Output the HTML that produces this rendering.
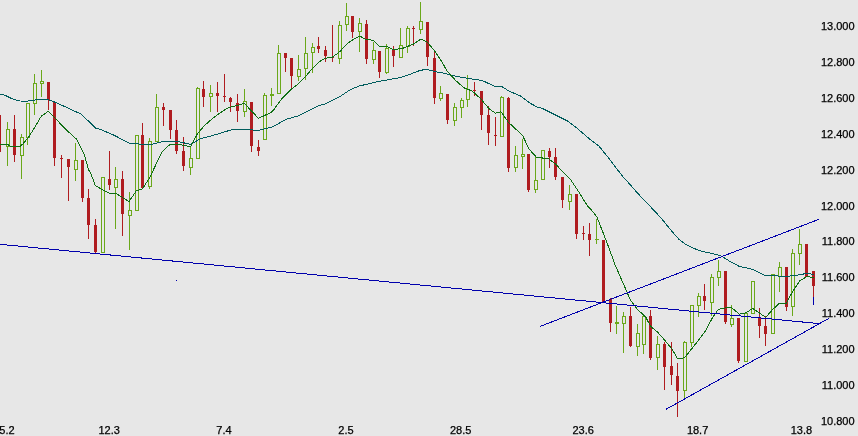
<!DOCTYPE html>
<html><head><meta charset="utf-8"><title>Chart</title>
<style>
html,body{margin:0;padding:0;background:#e7e7e7;}
body{width:858px;height:436px;overflow:hidden;}
svg{display:block;}
text{font-family:"Liberation Sans",Arial,sans-serif;font-size:11px;fill:#000;stroke:#000;stroke-width:0.25px;}
</style></head><body>
<svg width="858" height="436" viewBox="0 0 858 436">
<rect x="0" y="0" width="858" height="436" fill="#e7e7e7"/>
<g shape-rendering="crispEdges">
<rect x="-1" y="115" width="1" height="37" fill="#b01c20"/>
<rect x="-2" y="115" width="3" height="37" fill="#b01c20"/>
<rect x="7" y="122" width="1" height="7" fill="#6aa81a"/>
<rect x="7" y="147" width="1" height="19" fill="#6aa81a"/>
<rect x="6.5" y="129.5" width="3" height="17" fill="none" stroke="#6aa81a" stroke-width="1"/>
<rect x="14" y="115" width="1" height="47" fill="#b01c20"/>
<rect x="13" y="129" width="3" height="26" fill="#b01c20"/>
<rect x="21" y="134" width="1" height="3" fill="#6aa81a"/>
<rect x="21" y="156" width="1" height="23" fill="#6aa81a"/>
<rect x="20.5" y="137.5" width="3" height="18" fill="none" stroke="#6aa81a" stroke-width="1"/>
<rect x="27" y="138" width="1" height="7" fill="#6aa81a"/>
<rect x="26.5" y="103.5" width="3" height="34" fill="none" stroke="#6aa81a" stroke-width="1"/>
<rect x="34" y="74" width="1" height="9" fill="#6aa81a"/>
<rect x="34" y="104" width="1" height="11" fill="#6aa81a"/>
<rect x="33.5" y="83.5" width="3" height="20" fill="none" stroke="#6aa81a" stroke-width="1"/>
<rect x="41" y="70" width="1" height="11" fill="#6aa81a"/>
<rect x="41" y="84" width="1" height="13" fill="#6aa81a"/>
<rect x="40.5" y="81.5" width="3" height="2" fill="none" stroke="#6aa81a" stroke-width="1"/>
<rect x="48" y="82" width="1" height="28" fill="#b01c20"/>
<rect x="47" y="82" width="3" height="18" fill="#b01c20"/>
<rect x="54" y="102" width="1" height="64" fill="#b01c20"/>
<rect x="53" y="102" width="3" height="56" fill="#b01c20"/>
<rect x="61" y="155" width="1" height="23" fill="#b01c20"/>
<rect x="60" y="158" width="3" height="1" fill="#b01c20"/>
<rect x="68" y="159" width="1" height="42" fill="#b01c20"/>
<rect x="67" y="159" width="3" height="8" fill="#b01c20"/>
<rect x="75" y="143" width="1" height="17" fill="#6aa81a"/>
<rect x="75" y="170" width="1" height="11" fill="#6aa81a"/>
<rect x="74.5" y="160.5" width="3" height="9" fill="none" stroke="#6aa81a" stroke-width="1"/>
<rect x="82" y="160" width="1" height="42" fill="#b01c20"/>
<rect x="81" y="160" width="3" height="38" fill="#b01c20"/>
<rect x="88" y="189" width="1" height="50" fill="#b01c20"/>
<rect x="87" y="198" width="3" height="27" fill="#b01c20"/>
<rect x="95" y="219" width="1" height="35" fill="#b01c20"/>
<rect x="94" y="225" width="3" height="27" fill="#b01c20"/>
<rect x="101.5" y="177.5" width="3" height="75" fill="none" stroke="#6aa81a" stroke-width="1"/>
<rect x="109" y="151" width="1" height="39" fill="#b01c20"/>
<rect x="108" y="179" width="3" height="6" fill="#b01c20"/>
<rect x="115" y="167" width="1" height="12" fill="#6aa81a"/>
<rect x="115" y="188" width="1" height="41" fill="#6aa81a"/>
<rect x="114.5" y="179.5" width="3" height="8" fill="none" stroke="#6aa81a" stroke-width="1"/>
<rect x="122" y="171" width="1" height="65" fill="#b01c20"/>
<rect x="121" y="179" width="3" height="35" fill="#b01c20"/>
<rect x="129" y="192" width="1" height="18" fill="#6aa81a"/>
<rect x="129" y="216" width="1" height="34" fill="#6aa81a"/>
<rect x="128.5" y="210.5" width="3" height="5" fill="none" stroke="#6aa81a" stroke-width="1"/>
<rect x="135.5" y="135.5" width="3" height="75" fill="none" stroke="#6aa81a" stroke-width="1"/>
<rect x="142" y="123" width="1" height="65" fill="#b01c20"/>
<rect x="141" y="135" width="3" height="53" fill="#b01c20"/>
<rect x="149" y="138" width="1" height="3" fill="#6aa81a"/>
<rect x="149" y="187" width="1" height="2" fill="#6aa81a"/>
<rect x="148.5" y="141.5" width="3" height="45" fill="none" stroke="#6aa81a" stroke-width="1"/>
<rect x="156" y="94" width="1" height="13" fill="#6aa81a"/>
<rect x="155.5" y="107.5" width="3" height="34" fill="none" stroke="#6aa81a" stroke-width="1"/>
<rect x="163" y="103" width="1" height="23" fill="#b01c20"/>
<rect x="162" y="107" width="3" height="3" fill="#b01c20"/>
<rect x="170" y="110" width="1" height="29" fill="#b01c20"/>
<rect x="169" y="110" width="3" height="20" fill="#b01c20"/>
<rect x="176" y="120" width="1" height="34" fill="#b01c20"/>
<rect x="175" y="130" width="3" height="21" fill="#b01c20"/>
<rect x="183" y="137" width="1" height="34" fill="#b01c20"/>
<rect x="182" y="151" width="3" height="15" fill="#b01c20"/>
<rect x="190" y="146" width="1" height="12" fill="#6aa81a"/>
<rect x="190" y="168" width="1" height="7" fill="#6aa81a"/>
<rect x="189.5" y="158.5" width="3" height="9" fill="none" stroke="#6aa81a" stroke-width="1"/>
<rect x="197" y="87" width="1" height="1" fill="#6aa81a"/>
<rect x="196.5" y="88.5" width="3" height="70" fill="none" stroke="#6aa81a" stroke-width="1"/>
<rect x="203" y="81" width="1" height="26" fill="#b01c20"/>
<rect x="202" y="89" width="3" height="8" fill="#b01c20"/>
<rect x="210" y="85" width="1" height="8" fill="#6aa81a"/>
<rect x="210" y="97" width="1" height="15" fill="#6aa81a"/>
<rect x="209.5" y="93.5" width="3" height="3" fill="none" stroke="#6aa81a" stroke-width="1"/>
<rect x="217" y="82" width="1" height="30" fill="#b01c20"/>
<rect x="216" y="93" width="3" height="3" fill="#b01c20"/>
<rect x="224" y="74" width="1" height="28" fill="#b01c20"/>
<rect x="223" y="96" width="3" height="1" fill="#b01c20"/>
<rect x="230" y="97" width="1" height="15" fill="#b01c20"/>
<rect x="229" y="98" width="3" height="4" fill="#b01c20"/>
<rect x="237" y="94" width="1" height="28" fill="#b01c20"/>
<rect x="236" y="103" width="3" height="8" fill="#b01c20"/>
<rect x="244" y="89" width="1" height="12" fill="#6aa81a"/>
<rect x="244" y="112" width="1" height="5" fill="#6aa81a"/>
<rect x="243.5" y="101.5" width="3" height="10" fill="none" stroke="#6aa81a" stroke-width="1"/>
<rect x="251" y="102" width="1" height="50" fill="#b01c20"/>
<rect x="250" y="102" width="3" height="44" fill="#b01c20"/>
<rect x="258" y="140" width="1" height="16" fill="#b01c20"/>
<rect x="257" y="147" width="3" height="4" fill="#b01c20"/>
<rect x="264" y="93" width="1" height="2" fill="#6aa81a"/>
<rect x="263.5" y="95.5" width="3" height="44" fill="none" stroke="#6aa81a" stroke-width="1"/>
<rect x="271" y="88" width="1" height="6" fill="#6aa81a"/>
<rect x="271" y="96" width="1" height="10" fill="#6aa81a"/>
<rect x="270" y="94" width="4" height="2" fill="#6aa81a"/>
<rect x="278" y="45" width="1" height="8" fill="#6aa81a"/>
<rect x="277.5" y="53.5" width="3" height="40" fill="none" stroke="#6aa81a" stroke-width="1"/>
<rect x="285" y="53" width="1" height="19" fill="#b01c20"/>
<rect x="284" y="53" width="3" height="5" fill="#b01c20"/>
<rect x="291" y="58" width="1" height="31" fill="#b01c20"/>
<rect x="290" y="58" width="3" height="18" fill="#b01c20"/>
<rect x="298" y="55" width="1" height="14" fill="#6aa81a"/>
<rect x="298" y="77" width="1" height="4" fill="#6aa81a"/>
<rect x="297.5" y="69.5" width="3" height="7" fill="none" stroke="#6aa81a" stroke-width="1"/>
<rect x="305" y="37" width="1" height="16" fill="#6aa81a"/>
<rect x="305" y="69" width="1" height="11" fill="#6aa81a"/>
<rect x="304.5" y="53.5" width="3" height="15" fill="none" stroke="#6aa81a" stroke-width="1"/>
<rect x="312" y="43" width="1" height="4" fill="#6aa81a"/>
<rect x="312" y="53" width="1" height="20" fill="#6aa81a"/>
<rect x="311.5" y="47.5" width="3" height="5" fill="none" stroke="#6aa81a" stroke-width="1"/>
<rect x="318" y="37" width="1" height="16" fill="#b01c20"/>
<rect x="317" y="46" width="3" height="3" fill="#b01c20"/>
<rect x="325" y="46" width="1" height="16" fill="#b01c20"/>
<rect x="324" y="50" width="3" height="6" fill="#b01c20"/>
<rect x="332" y="25" width="1" height="37" fill="#b01c20"/>
<rect x="331" y="57" width="3" height="1" fill="#b01c20"/>
<rect x="339" y="21" width="1" height="4" fill="#6aa81a"/>
<rect x="339" y="59" width="1" height="5" fill="#6aa81a"/>
<rect x="338.5" y="25.5" width="3" height="33" fill="none" stroke="#6aa81a" stroke-width="1"/>
<rect x="346" y="3" width="1" height="13" fill="#6aa81a"/>
<rect x="346" y="25" width="1" height="6" fill="#6aa81a"/>
<rect x="345.5" y="16.5" width="3" height="8" fill="none" stroke="#6aa81a" stroke-width="1"/>
<rect x="352" y="16" width="1" height="22" fill="#b01c20"/>
<rect x="351" y="16" width="3" height="16" fill="#b01c20"/>
<rect x="359" y="18" width="1" height="5" fill="#6aa81a"/>
<rect x="359" y="32" width="1" height="20" fill="#6aa81a"/>
<rect x="358.5" y="23.5" width="3" height="8" fill="none" stroke="#6aa81a" stroke-width="1"/>
<rect x="366" y="20" width="1" height="44" fill="#b01c20"/>
<rect x="365" y="24" width="3" height="35" fill="#b01c20"/>
<rect x="373" y="42" width="1" height="8" fill="#6aa81a"/>
<rect x="373" y="60" width="1" height="4" fill="#6aa81a"/>
<rect x="372.5" y="50.5" width="3" height="9" fill="none" stroke="#6aa81a" stroke-width="1"/>
<rect x="379" y="51" width="1" height="27" fill="#b01c20"/>
<rect x="378" y="51" width="3" height="21" fill="#b01c20"/>
<rect x="386" y="44" width="1" height="4" fill="#6aa81a"/>
<rect x="386" y="73" width="1" height="1" fill="#6aa81a"/>
<rect x="385.5" y="48.5" width="3" height="24" fill="none" stroke="#6aa81a" stroke-width="1"/>
<rect x="393" y="46" width="1" height="21" fill="#b01c20"/>
<rect x="392" y="49" width="3" height="7" fill="#b01c20"/>
<rect x="400" y="28" width="1" height="17" fill="#6aa81a"/>
<rect x="399.5" y="45.5" width="3" height="12" fill="none" stroke="#6aa81a" stroke-width="1"/>
<rect x="407" y="26" width="1" height="2" fill="#6aa81a"/>
<rect x="407" y="47" width="1" height="6" fill="#6aa81a"/>
<rect x="406.5" y="28.5" width="3" height="18" fill="none" stroke="#6aa81a" stroke-width="1"/>
<rect x="413" y="26" width="1" height="20" fill="#b01c20"/>
<rect x="412" y="28" width="3" height="1" fill="#b01c20"/>
<rect x="420" y="2" width="1" height="19" fill="#6aa81a"/>
<rect x="420" y="30" width="1" height="4" fill="#6aa81a"/>
<rect x="419.5" y="21.5" width="3" height="8" fill="none" stroke="#6aa81a" stroke-width="1"/>
<rect x="427" y="22" width="1" height="44" fill="#b01c20"/>
<rect x="426" y="22" width="3" height="35" fill="#b01c20"/>
<rect x="434" y="52" width="1" height="52" fill="#b01c20"/>
<rect x="433" y="58" width="3" height="40" fill="#b01c20"/>
<rect x="440" y="86" width="1" height="7" fill="#6aa81a"/>
<rect x="440" y="99" width="1" height="2" fill="#6aa81a"/>
<rect x="439.5" y="93.5" width="3" height="5" fill="none" stroke="#6aa81a" stroke-width="1"/>
<rect x="447" y="94" width="1" height="30" fill="#b01c20"/>
<rect x="446" y="94" width="3" height="26" fill="#b01c20"/>
<rect x="454" y="103" width="1" height="4" fill="#6aa81a"/>
<rect x="454" y="121" width="1" height="5" fill="#6aa81a"/>
<rect x="453.5" y="107.5" width="3" height="13" fill="none" stroke="#6aa81a" stroke-width="1"/>
<rect x="461" y="98" width="1" height="2" fill="#6aa81a"/>
<rect x="461" y="108" width="1" height="10" fill="#6aa81a"/>
<rect x="460.5" y="100.5" width="3" height="7" fill="none" stroke="#6aa81a" stroke-width="1"/>
<rect x="467" y="75" width="1" height="14" fill="#6aa81a"/>
<rect x="467" y="100" width="1" height="7" fill="#6aa81a"/>
<rect x="466.5" y="89.5" width="3" height="10" fill="none" stroke="#6aa81a" stroke-width="1"/>
<rect x="474" y="82" width="1" height="14" fill="#b01c20"/>
<rect x="473" y="90" width="3" height="1" fill="#b01c20"/>
<rect x="481" y="91" width="1" height="39" fill="#b01c20"/>
<rect x="480" y="91" width="3" height="24" fill="#b01c20"/>
<rect x="488" y="106" width="1" height="39" fill="#b01c20"/>
<rect x="487" y="115" width="3" height="18" fill="#b01c20"/>
<rect x="495" y="117" width="1" height="29" fill="#b01c20"/>
<rect x="494" y="135" width="3" height="1" fill="#b01c20"/>
<rect x="501" y="96" width="1" height="1" fill="#6aa81a"/>
<rect x="500.5" y="97.5" width="3" height="39" fill="none" stroke="#6aa81a" stroke-width="1"/>
<rect x="508" y="97" width="1" height="75" fill="#b01c20"/>
<rect x="507" y="98" width="3" height="70" fill="#b01c20"/>
<rect x="515" y="146" width="1" height="9" fill="#6aa81a"/>
<rect x="515" y="168" width="1" height="4" fill="#6aa81a"/>
<rect x="514.5" y="155.5" width="3" height="12" fill="none" stroke="#6aa81a" stroke-width="1"/>
<rect x="522" y="139" width="1" height="15" fill="#6aa81a"/>
<rect x="522" y="157" width="1" height="12" fill="#6aa81a"/>
<rect x="521.5" y="154.5" width="3" height="2" fill="none" stroke="#6aa81a" stroke-width="1"/>
<rect x="528" y="154" width="1" height="38" fill="#b01c20"/>
<rect x="527" y="154" width="3" height="36" fill="#b01c20"/>
<rect x="535" y="156" width="1" height="24" fill="#6aa81a"/>
<rect x="535" y="190" width="1" height="3" fill="#6aa81a"/>
<rect x="534.5" y="180.5" width="3" height="9" fill="none" stroke="#6aa81a" stroke-width="1"/>
<rect x="541.5" y="150.5" width="3" height="29" fill="none" stroke="#6aa81a" stroke-width="1"/>
<rect x="549" y="148" width="1" height="20" fill="#b01c20"/>
<rect x="548" y="151" width="3" height="6" fill="#b01c20"/>
<rect x="555" y="148" width="1" height="32" fill="#b01c20"/>
<rect x="554" y="157" width="3" height="20" fill="#b01c20"/>
<rect x="562" y="177" width="1" height="31" fill="#b01c20"/>
<rect x="561" y="177" width="3" height="23" fill="#b01c20"/>
<rect x="569" y="185" width="1" height="9" fill="#6aa81a"/>
<rect x="569" y="202" width="1" height="8" fill="#6aa81a"/>
<rect x="568.5" y="194.5" width="3" height="7" fill="none" stroke="#6aa81a" stroke-width="1"/>
<rect x="576" y="194" width="1" height="45" fill="#b01c20"/>
<rect x="575" y="194" width="3" height="40" fill="#b01c20"/>
<rect x="583" y="226" width="1" height="14" fill="#b01c20"/>
<rect x="582" y="233" width="3" height="1" fill="#b01c20"/>
<rect x="589" y="223" width="1" height="33" fill="#b01c20"/>
<rect x="588" y="234" width="3" height="6" fill="#b01c20"/>
<rect x="596" y="219" width="1" height="20" fill="#6aa81a"/>
<rect x="596" y="240" width="1" height="4" fill="#6aa81a"/>
<rect x="595" y="239" width="4" height="1" fill="#6aa81a"/>
<rect x="603" y="240" width="1" height="63" fill="#b01c20"/>
<rect x="602" y="240" width="3" height="63" fill="#b01c20"/>
<rect x="610" y="298" width="1" height="34" fill="#b01c20"/>
<rect x="609" y="299" width="3" height="24" fill="#b01c20"/>
<rect x="616" y="306" width="1" height="16" fill="#6aa81a"/>
<rect x="616" y="324" width="1" height="10" fill="#6aa81a"/>
<rect x="615" y="322" width="4" height="2" fill="#6aa81a"/>
<rect x="623" y="312" width="1" height="4" fill="#6aa81a"/>
<rect x="623" y="324" width="1" height="29" fill="#6aa81a"/>
<rect x="622.5" y="316.5" width="3" height="7" fill="none" stroke="#6aa81a" stroke-width="1"/>
<rect x="630" y="307" width="1" height="40" fill="#b01c20"/>
<rect x="629" y="316" width="3" height="30" fill="#b01c20"/>
<rect x="637" y="324" width="1" height="9" fill="#6aa81a"/>
<rect x="637" y="347" width="1" height="9" fill="#6aa81a"/>
<rect x="636.5" y="333.5" width="3" height="13" fill="none" stroke="#6aa81a" stroke-width="1"/>
<rect x="643" y="345" width="1" height="9" fill="#6aa81a"/>
<rect x="642.5" y="316.5" width="3" height="28" fill="none" stroke="#6aa81a" stroke-width="1"/>
<rect x="650" y="310" width="1" height="50" fill="#b01c20"/>
<rect x="649" y="316" width="3" height="42" fill="#b01c20"/>
<rect x="657" y="336" width="1" height="8" fill="#6aa81a"/>
<rect x="657" y="358" width="1" height="12" fill="#6aa81a"/>
<rect x="656.5" y="344.5" width="3" height="13" fill="none" stroke="#6aa81a" stroke-width="1"/>
<rect x="664" y="342" width="1" height="48" fill="#b01c20"/>
<rect x="663" y="344" width="3" height="23" fill="#b01c20"/>
<rect x="671" y="342" width="1" height="43" fill="#b01c20"/>
<rect x="670" y="366" width="3" height="9" fill="#b01c20"/>
<rect x="677" y="363" width="1" height="54" fill="#b01c20"/>
<rect x="676" y="376" width="3" height="15" fill="#b01c20"/>
<rect x="684" y="341" width="1" height="1" fill="#6aa81a"/>
<rect x="684" y="391" width="1" height="8" fill="#6aa81a"/>
<rect x="683.5" y="342.5" width="3" height="48" fill="none" stroke="#6aa81a" stroke-width="1"/>
<rect x="691" y="343" width="1" height="4" fill="#6aa81a"/>
<rect x="690.5" y="305.5" width="3" height="37" fill="none" stroke="#6aa81a" stroke-width="1"/>
<rect x="698" y="293" width="1" height="3" fill="#6aa81a"/>
<rect x="698" y="306" width="1" height="11" fill="#6aa81a"/>
<rect x="697.5" y="296.5" width="3" height="9" fill="none" stroke="#6aa81a" stroke-width="1"/>
<rect x="704" y="284" width="1" height="26" fill="#b01c20"/>
<rect x="703" y="296" width="3" height="5" fill="#b01c20"/>
<rect x="711" y="274" width="1" height="3" fill="#6aa81a"/>
<rect x="711" y="303" width="1" height="13" fill="#6aa81a"/>
<rect x="710.5" y="277.5" width="3" height="25" fill="none" stroke="#6aa81a" stroke-width="1"/>
<rect x="718" y="260" width="1" height="11" fill="#6aa81a"/>
<rect x="718" y="278" width="1" height="8" fill="#6aa81a"/>
<rect x="717.5" y="271.5" width="3" height="6" fill="none" stroke="#6aa81a" stroke-width="1"/>
<rect x="725" y="271" width="1" height="53" fill="#b01c20"/>
<rect x="724" y="271" width="3" height="51" fill="#b01c20"/>
<rect x="731" y="305" width="1" height="13" fill="#6aa81a"/>
<rect x="731" y="325" width="1" height="2" fill="#6aa81a"/>
<rect x="730.5" y="318.5" width="3" height="6" fill="none" stroke="#6aa81a" stroke-width="1"/>
<rect x="738" y="318" width="1" height="45" fill="#b01c20"/>
<rect x="737" y="318" width="3" height="43" fill="#b01c20"/>
<rect x="744.5" y="313.5" width="3" height="48" fill="none" stroke="#6aa81a" stroke-width="1"/>
<rect x="751.5" y="281.5" width="3" height="32" fill="none" stroke="#6aa81a" stroke-width="1"/>
<rect x="759" y="308" width="1" height="30" fill="#b01c20"/>
<rect x="758" y="317" width="3" height="9" fill="#b01c20"/>
<rect x="765" y="316" width="1" height="30" fill="#b01c20"/>
<rect x="764" y="326" width="3" height="8" fill="#b01c20"/>
<rect x="771.5" y="274.5" width="3" height="59" fill="none" stroke="#6aa81a" stroke-width="1"/>
<rect x="779" y="262" width="1" height="5" fill="#6aa81a"/>
<rect x="779" y="277" width="1" height="15" fill="#6aa81a"/>
<rect x="778.5" y="267.5" width="3" height="9" fill="none" stroke="#6aa81a" stroke-width="1"/>
<rect x="786" y="267" width="1" height="44" fill="#b01c20"/>
<rect x="785" y="267" width="3" height="40" fill="#b01c20"/>
<rect x="792" y="249" width="1" height="4" fill="#6aa81a"/>
<rect x="792" y="307" width="1" height="9" fill="#6aa81a"/>
<rect x="791.5" y="253.5" width="3" height="53" fill="none" stroke="#6aa81a" stroke-width="1"/>
<rect x="799" y="229" width="1" height="15" fill="#6aa81a"/>
<rect x="799" y="254" width="1" height="11" fill="#6aa81a"/>
<rect x="798.5" y="244.5" width="3" height="9" fill="none" stroke="#6aa81a" stroke-width="1"/>
<rect x="806" y="244" width="1" height="33" fill="#b01c20"/>
<rect x="805" y="244" width="3" height="33" fill="#b01c20"/>
<rect x="813" y="271" width="1" height="26" fill="#b01c20"/>
<rect x="812" y="271" width="3" height="15" fill="#b01c20"/>
<rect x="813" y="297" width="1" height="8" fill="#0000ac"/>
<rect x="176" y="280" width="1" height="1" fill="#0000ac"/>
</g>
<polyline points="0,94.4 5,95.2 12.6,99 20,101 27.7,101.1 38.6,99.4 47.8,99.4 54.5,102 67,107.5 72.2,110 81.4,114.3 95.7,128.2 101.5,129.8 114,135.2 129.2,143.2 136.8,143.6 141.7,144.7 151.8,144.2 163.6,141.5 177.5,141.5 190.5,144.3 200.5,138.8 217.3,134.2 230.7,130 236,129.2 244.5,129.4 258.5,130.4 272.5,126.8 279.5,123 286.5,119.2 298,116 318,106 324.5,104.1 340.6,96.2 350.6,89.4 359,86.1 377.5,81.6 400,77.7 410,74.3 420,70.4 426.9,69.3 433.6,71.3 445.3,73.5 457,76.5 467,78.2 482.2,80.5 494,86 501.5,86.4 509.1,91.1 520.8,96.1 530.9,103.7 537.6,107.2 542.2,108.4 553.9,114.2 568.2,121.4 577.4,128.5 590.7,140 598.9,146 609,158.5 622.4,176.1 630.5,185 635.8,191.2 647.2,203.5 649.3,205.5 656,212.5 661.5,218.6 672.4,232 679.1,239.5 685.8,244.6 692.6,247.9 699.3,250.5 704.2,251.8 714.2,254 720.7,255.8 725.7,258.7 729.3,261 739.2,266.4 752.6,269.3 764.4,275.1 786.2,276.5 799.6,274.8 808,273.1 813.9,274.8" fill="none" stroke="#005c5c" stroke-width="1" shape-rendering="crispEdges"/>
<polyline points="0,144.2 7.5,144.4 10,146 14.5,147 20,146.4 23,143.8 29.3,136.2 34.5,127.6 41.3,116.2 48.5,111.2 55.4,118.4 66.3,130 72.2,135.2 76.4,139 83.9,153.6 88.7,170 90.6,173 95.4,185.6 102,189.5 109.7,193.2 116.4,193.8 122.5,197.5 129,201.6 136.5,190.6 142.4,189 150,177.1 161.9,151.9 166.1,147.7 170.5,144.2 177.5,144.1 183.5,145.2 190.5,146.8 197.1,134.4 203.9,126 210.6,120.2 217.3,114.8 226.5,108.6 230.7,107.2 237.4,105.5 244.1,103.2 251.7,111.1 258.4,118.3 264.5,115.5 271,112.5 274,109.4 281.8,98.7 291.9,88.6 298.6,83.6 305.3,76.9 309.5,71.8 318.7,62 325.5,58.2 332.2,57.2 337.2,53.7 340.6,50.8 347.3,43.6 354,38.9 359.9,36.1 365.7,39.4 373.3,40.3 379.5,46.2 386.7,46.2 392.6,49.5 401.8,48.7 413.6,44 420.8,39.1 427.5,42.3 435.4,52 442.1,62.1 447,71 455.4,80.2 463.8,87.7 472.2,91.1 480.6,98.6 489,108.7 495.5,113.2 501,111.8 508.6,122.5 514.1,127.5 520.4,133.5 522.9,136 528.7,148.6 536.2,157 548.7,159 555.5,164 563.7,172.7 570.4,179.4 578.8,192 587.2,205.5 590.2,208.5 596.9,216.9 603.6,234 608.5,246.7 615.2,265.2 626.5,291 630.5,300 637.5,309.5 643.5,315 646,317.5 650.5,326.2 657.5,332 664.5,340 671.5,348.3 677.5,358.6 684.5,357.8 692.4,347.9 699.1,339.5 705.8,330.3 712.5,317.7 718.3,309.5 724.3,308.1 730.9,307.1 739.2,314.1 745.9,312.9 752.6,308.4 759.3,312.9 765.7,317.4 772.7,309.5 779.5,303.2 786.2,303.2 792.9,291.1 799.6,281 806.3,276.8 813.9,277.2" fill="none" stroke="#0f6e14" stroke-width="1" shape-rendering="crispEdges"/>
<line x1="0" y1="244.3" x2="819" y2="323.6" stroke="#0000ac" stroke-width="1" shape-rendering="crispEdges"/>
<line x1="540" y1="326.4" x2="819" y2="219.3" stroke="#0000ac" stroke-width="1" shape-rendering="crispEdges"/>
<line x1="666" y1="409.3" x2="829" y2="318.3" stroke="#0000ac" stroke-width="1" shape-rendering="crispEdges"/>
<g>
<text x="854.6" y="30.0" text-anchor="end">13.000</text>
<text x="854.6" y="65.9" text-anchor="end">12.800</text>
<text x="854.6" y="101.8" text-anchor="end">12.600</text>
<text x="854.6" y="137.7" text-anchor="end">12.400</text>
<text x="854.6" y="173.6" text-anchor="end">12.200</text>
<text x="854.6" y="209.5" text-anchor="end">12.000</text>
<text x="854.6" y="245.4" text-anchor="end">11.800</text>
<text x="854.6" y="281.3" text-anchor="end">11.600</text>
<text x="854.6" y="317.2" text-anchor="end">11.400</text>
<text x="854.6" y="353.1" text-anchor="end">11.200</text>
<text x="854.6" y="389.0" text-anchor="end">11.000</text>
<text x="854.6" y="424.9" text-anchor="end">10.800</text>
<text x="7" y="433.8" text-anchor="middle">5.2</text>
<text x="109.2" y="433.8" text-anchor="middle">12.3</text>
<text x="224" y="433.8" text-anchor="middle">7.4</text>
<text x="346" y="433.8" text-anchor="middle">2.5</text>
<text x="460.7" y="433.8" text-anchor="middle">28.5</text>
<text x="583.2" y="433.8" text-anchor="middle">23.6</text>
<text x="697.6" y="433.8" text-anchor="middle">18.7</text>
<text x="801.4" y="433.8" text-anchor="middle">13.8</text>
</g>
</svg>
</body></html>
